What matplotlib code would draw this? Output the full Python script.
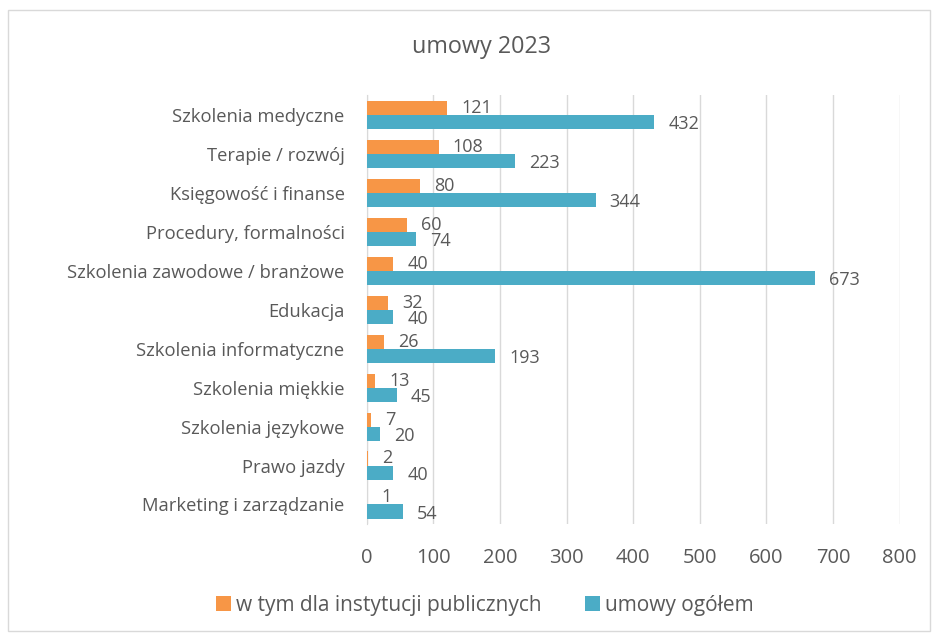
import numpy as np
import matplotlib.pyplot as plt
from matplotlib.patches import Rectangle

plt.rcParams['font.family'] = ['Open Sans', 'DejaVu Sans']

categories = ['Szkolenia medyczne', 'Terapie / rozwój', 'Księgowość i finanse',
              'Procedury, formalności', 'Szkolenia zawodowe / branżowe', 'Edukacja',
              'Szkolenia informatyczne', 'Szkolenia miękkie', 'Szkolenia językowe',
              'Prawo jazdy', 'Marketing i zarządzanie']
public = [121, 108, 80, 60, 40, 32, 26, 13, 7, 2, 1]
total = [432, 223, 344, 74, 673, 40, 193, 45, 20, 40, 54]
series_names = ['w tym dla instytucji publicznych', 'umowy ogółem']
colors = ['#F79646', '#4BACC6']
xticks = [0, 100, 200, 300, 400, 500, 600, 700, 800]

text_col = '#595959'

fig = plt.figure(figsize=(9.38, 6.39), dpi=100)
ax = fig.add_axes([0.391, 0.18, 0.568, 0.671])

y = np.arange(len(categories))
h = 0.36
ax.barh(y - h / 2, public, height=h, color=colors[0], label=series_names[0], zorder=3)
ax.barh(y + h / 2, total, height=h, color=colors[1], label=series_names[1], zorder=3)

for yi, v in zip(y, public):
    ax.annotate(str(v), (v, yi - h / 2), xytext=(10, 0), textcoords='offset points',
                ha='left', va='center', fontsize=13, color=text_col)
for yi, v in zip(y, total):
    ax.annotate(str(v), (v, yi + h / 2), xytext=(10, -1.5), textcoords='offset points',
                ha='left', va='center', fontsize=13, color=text_col)

ax.set_ylim(len(categories) - 0.5, -0.5)
ax.set_xlim(0, 800)
ax.set_xticks(xticks)
ax.set_yticks(y)
ax.set_yticklabels(categories)
ax.tick_params(axis='x', length=0, pad=17, labelsize=14.5, colors=text_col)
ax.tick_params(axis='y', length=0, pad=16, labelsize=13.2, colors=text_col)
ax.grid(axis='x', color='#D9D9D9', linewidth=1, zorder=0)
for s in ['top', 'right', 'bottom']:
    ax.spines[s].set_visible(False)
ax.spines['left'].set_color('#D9D9D9')

fig.text(0.513, 0.926, 'umowy 2023', ha='center', va='center', fontsize=16.8, color=text_col)
fig.legend(loc='center', bbox_to_anchor=(0.517, 0.053), ncol=2, frameon=False,
           fontsize=15, handlelength=0.7, handleheight=0.7, columnspacing=2.1,
           handletextpad=0.25, labelcolor=text_col)

fig.patches.append(Rectangle((0.009, 0.012), 0.982, 0.972, transform=fig.transFigure,
                             fill=False, edgecolor='#D9D9D9', linewidth=1))

fig.savefig('out.png', dpi=100)
